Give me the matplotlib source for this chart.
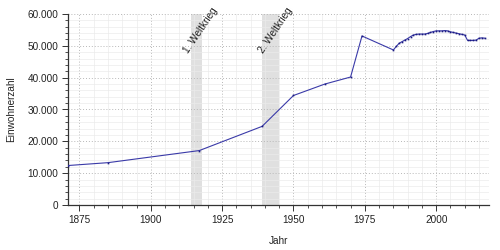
import matplotlib
matplotlib.use("Agg")
import matplotlib.pyplot as plt
from matplotlib.ticker import MultipleLocator, FuncFormatter

# Einwohnerentwicklung
jahre = [1871, 1885, 1917, 1939, 1950, 1961, 1970, 1974,
         1985, 1986, 1987, 1988, 1989, 1990, 1991, 1992, 1993, 1994, 1995,
         1996, 1997, 1998, 1999, 2000, 2001, 2002, 2003, 2004, 2005, 2006,
         2007, 2008, 2009, 2010, 2011, 2012, 2013, 2014, 2015, 2016, 2017]
einwohner = [12400, 13300, 17100, 24700, 34400, 38000, 40200, 53100,
             48700, 49800, 50800, 51300, 51800, 52300, 52900, 53400, 53600, 53700, 53700,
             53700, 53900, 54200, 54500, 54700, 54700, 54700, 54800, 54700, 54400, 54200,
             54000, 53800, 53600, 53400, 51700, 51700, 51700, 51800, 52400, 52500, 52400]

kriege = [("1. Weltkrieg", 1914, 1918), ("2. Weltkrieg", 1939, 1945)]

plt.rcParams['font.family'] = ['Liberation Sans', 'DejaVu Sans']
plt.rcParams['font.size'] = 7.2

fig = plt.figure(figsize=(5, 2.5), dpi=100)
ax = fig.add_axes([0.136, 0.18, 0.842, 0.764])

for name, von, bis in kriege:
    ax.axvspan(von, bis, color="#e0e0e0", lw=0, zorder=0)
    ax.text((von + bis) / 2 + 1.6, 54800, name, rotation=56, ha="center", va="center",
            rotation_mode="anchor", color="#222222", fontsize=7.2)

ax.plot(jahre, einwohner, color="#3a3aa8", lw=0.8, marker="s", ms=1.2,
        mfc="#1a1a80", mec="none", zorder=3)

ax.set_xlim(1871, 2018.5)
ax.set_ylim(0, 60000)
ax.xaxis.set_major_locator(MultipleLocator(25))
ax.xaxis.set_minor_locator(MultipleLocator(5))
ax.yaxis.set_major_locator(MultipleLocator(10000))
ax.yaxis.set_minor_locator(MultipleLocator(2000))
ax.yaxis.set_major_formatter(FuncFormatter(lambda v, p: f"{int(v):,}".replace(",", ".")))

ax.grid(which="major", color="#b8b8b8", ls=(0, (1, 2)), lw=0.7)
ax.grid(which="minor", color="#ebebeb", ls="-", lw=0.5)
ax.set_axisbelow(True)

for s in ["top", "right"]:
    ax.spines[s].set_visible(False)
for s in ["left", "bottom"]:
    ax.spines[s].set_color("#333333")
    ax.spines[s].set_linewidth(0.9)

ax.tick_params(which="major", length=4, width=0.7, color="#333333", labelcolor="#222222", pad=3)
ax.tick_params(which="minor", length=2, width=0.6, color="#333333")

ax.set_xlabel("Jahr", labelpad=8, color="#222222")
ax.set_ylabel("Einwohnerzahl", labelpad=8, color="#222222")

fig.savefig("out.png", dpi=100)
